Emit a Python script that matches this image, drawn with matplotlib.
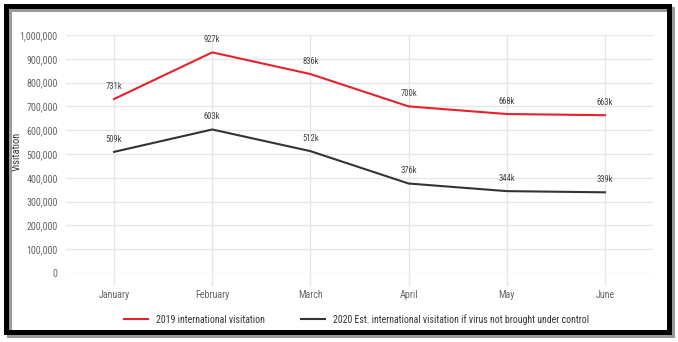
import matplotlib
matplotlib.use("Agg")
import matplotlib.pyplot as plt
from matplotlib.patches import Rectangle
from matplotlib.ticker import FuncFormatter

plt.rcParams['font.family'] = ['Roboto Condensed', 'Roboto', 'DejaVu Sans']

months = ["January", "February", "March", "April", "May", "June"]
visits_2019 = [731000, 927000, 836000, 700000, 668000, 663000]
visits_2020_est = [509000, 603000, 512000, 376000, 344000, 339000]
label_2019 = "2019 international visitation"
label_2020 = "2020 Est. international visitation if virus not brought under control"

W, H = 678, 342
fig = plt.figure(figsize=(W / 100, H / 100), dpi=100)
ax = fig.add_axes([66 / W, 1 - 273 / H, (653 - 66) / W, (273 - 35) / H])

x = list(range(len(months)))
red = "#e8202a"
dark = "#333333"
ax.plot(x, visits_2019, color=red, lw=1.5, label=label_2019)
ax.plot(x, visits_2020_est, color=dark, lw=1.5, label=label_2020)

for vals in (visits_2019, visits_2020_est):
    for xi, v in zip(x, vals):
        ax.annotate(f"{v // 1000}k", (xi, v), xytext=(0, 6), textcoords="offset points",
                    ha="center", va="bottom", fontsize=6.2, color="#444444")

ax.set_xlim(-0.49, 5.49)
ax.set_ylim(0, 1000000)
ax.set_xticks(x)
ax.set_xticklabels(months)
ax.set_yticks(range(0, 1000001, 100000))
ax.yaxis.set_major_formatter(FuncFormatter(lambda v, p: f"{int(v):,}"))
ax.grid(True, color="#e6e6e6", lw=1)
ax.set_axisbelow(True)
for s in ax.spines.values():
    s.set_visible(False)
ax.tick_params(axis="x", length=9, color="#e6e6e6", width=1, labelsize=7.2,
               labelcolor="#666666", pad=3)
ax.tick_params(axis="y", length=0, labelsize=7.2, labelcolor="#666666", pad=6)
ax.set_ylabel("Visitation", fontsize=7.5, color="#333333")
ax.yaxis.set_label_coords(-0.075, 0.51)

ax.legend(loc="upper center", bbox_to_anchor=(0.495, -0.135), ncol=2, frameon=False,
          fontsize=7.1, handlelength=2.5, handletextpad=0.8, columnspacing=3.6,
          labelcolor="#333333")

# framed border with drop shadow
fig.patches.append(Rectangle((8.5 / W, 7.5 / H), 663 / W, 326 / H, transform=fig.transFigure,
                             fill=False, ec="#9a9a9a", lw=3.6, zorder=0))
fig.patches.append(Rectangle((5.5 / W, 10.5 / H), 663 / W, 326 / H, transform=fig.transFigure,
                             fill=False, ec="black", lw=3.6, zorder=1))

fig.savefig("out.png", dpi=100)
